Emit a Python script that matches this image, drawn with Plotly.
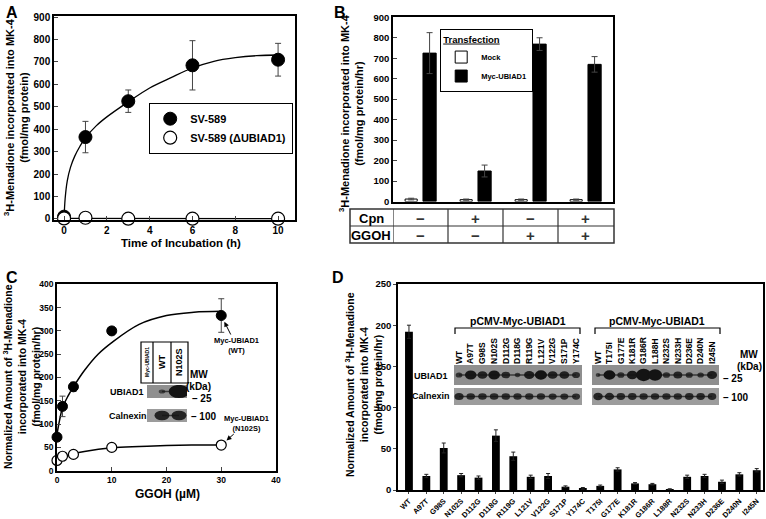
import plotly.graph_objects as go

W, H = 766, 519
def fx(p):
    return p / W
def fy(p):
    return 1 - p / H

FONT = "Liberation Sans, Arial, Helvetica, sans-serif"

# ---------------- Panel A data ----------------
a_time = [0, 1, 3, 6, 10]
a_sv589 = [10, 365, 525, 685, 710]
a_sv589_err = [5, 70, 50, 110, 73]
a_ko = [2, 5, 1, 1, 1]
a_fit_t = [0, 0.05, 0.15, 0.3, 0.5, 0.75, 1, 1.5, 2, 3, 4, 5, 6, 7, 8, 9, 10]
a_fit_v = [0, 90, 170, 230, 280, 325, 362, 415, 455, 522, 584, 630, 673, 703, 719, 728, 731]
a_ko_fit_t = [0, 10]
a_ko_fit_v = [2, 1]

# ---------------- Panel B data ----------------
b_cond = [0, 1, 2, 3]
b_mock = [12, 9, 9, 9]
b_mock_err = [4, 3, 3, 3]
b_myc = [725, 149, 769, 670]
b_myc_err = [100, 29, 31, 38]
b_cpn = ["\u2212", "+", "\u2212", "+"]
b_ggoh = ["\u2212", "\u2212", "+", "+"]

# ---------------- Panel C data ----------------
c_ggoh = [0, 1, 3, 10, 30]
c_wt = [72, 138, 180, 300, 333]
c_wt_err = [8, 22, 10, 8, 36]
c_n102s = [22, 31, 35, 50, 55]
c_n102s_err = [3, 3, 3, 4, 4]
c_wt_fit_x = [0, 0.25, 0.5, 1, 2, 3, 5, 7.5, 10, 15, 20, 25, 30]
c_wt_fit_y = [78, 95, 110, 135, 160, 180, 215, 250, 275, 314, 333, 340, 342]
c_mut_fit_x = [0, 1, 3, 5, 10, 15, 20, 25, 30]
c_mut_fit_y = [22, 29, 36, 41, 49, 52, 54, 55, 55]
c_lanes = ["WT", "N102S"]
c_ubi_band = [0.35, 1.1]
c_cnx_band = [0.8, 0.8]

# ---------------- Panel D data ----------------
d_mut = ["WT", "A97T", "G98S", "N102S", "D112G", "D118G", "R119G", "L121V", "V122G",
         "S171P", "Y174C", "T175I", "G177E", "K181R", "G186R", "L188R", "N232S",
         "N233H", "D236E", "D240N", "I245N"]
d_val = [192, 17, 51, 18, 15, 66, 41, 16, 17, 4, 2, 5, 25, 8, 7, 1, 16, 17, 10, 19, 24]
d_err = [8, 2, 6, 2, 2, 7, 5, 2, 3, 1, 1, 1, 2, 1, 1, 0.5, 2, 2, 2, 2, 2]
d_lanes_left = ["WT", "A97T", "G98S", "N102S", "D112G", "D118G", "R119G", "L121V",
                "V122G", "S171P", "Y174C"]
d_lanes_right = ["WT", "T175I", "G177E", "K181R", "G186R", "L188H", "N232S", "N233H",
                 "D236E", "D240N", "I245N"]
d_ubi_left = [0.55, 0.95, 0.8, 0.95, 0.7, 0.45, 0.85, 1.0, 0.8, 0.8, 0.65]
d_ubi_right = [0.4, 1.0, 0.6, 0.9, 1.3, 1.2, 0.6, 0.75, 0.6, 0.55, 0.85]
d_cnx_left = [0.75, 0.7, 0.7, 0.7, 0.7, 0.68, 0.68, 0.68, 0.66, 0.66, 0.66]
d_cnx_right = [0.8, 0.78, 0.72, 0.72, 0.7, 0.7, 0.7, 0.7, 0.72, 0.72, 0.72]

BOLD = dict(family=FONT, color="black", weight="bold")
def bf(size, **kw):
    d = dict(BOLD)
    d["size"] = size
    d.update(kw)
    return d

fig = go.Figure()

# ---- A traces ----
fig.add_trace(go.Scatter(x=a_fit_t, y=a_fit_v, mode="lines", xaxis="x", yaxis="y",
                         line=dict(color="black", width=1.3, shape="spline"),
                         showlegend=False, hoverinfo="skip"))
fig.add_trace(go.Scatter(x=a_ko_fit_t, y=a_ko_fit_v, mode="lines", xaxis="x", yaxis="y",
                         line=dict(color="black", width=1.3), showlegend=False, hoverinfo="skip"))
fig.add_trace(go.Scatter(x=a_time, y=a_sv589, mode="markers", name="SV-589", xaxis="x", yaxis="y",
                         marker=dict(size=13, color="black", line=dict(color="black", width=1)),
                         error_y=dict(type="data", array=a_sv589_err, color="#444", thickness=1, width=3),
                         legend="legend", cliponaxis=False))
fig.add_trace(go.Scatter(x=a_time, y=a_ko, mode="markers", name="SV-589 (\u0394UBIAD1)", xaxis="x", yaxis="y",
                         marker=dict(size=13, color="white", line=dict(color="black", width=1.2)),
                         legend="legend", cliponaxis=False))

# ---- B traces ----
fig.add_trace(go.Bar(x=b_cond, y=b_mock, width=0.22, offset=-0.28, name="Mock", xaxis="x2", yaxis="y2",
                     marker=dict(color="white", line=dict(color="black", width=1)),
                     error_y=dict(type="data", array=b_mock_err, color="#444", thickness=1, width=3),
                     legend="legend2"))
fig.add_trace(go.Bar(x=b_cond, y=b_myc, width=0.24, offset=0.045, name="Myc-UBIAD1", xaxis="x2", yaxis="y2",
                     marker=dict(color="black", line=dict(color="black", width=1)),
                     error_y=dict(type="data", array=b_myc_err, color="#444", thickness=1, width=3),
                     legend="legend2"))

# ---- C traces ----
fig.add_trace(go.Scatter(x=c_wt_fit_x, y=c_wt_fit_y, mode="lines", xaxis="x3", yaxis="y3",
                         line=dict(color="black", width=1.5, shape="spline"), showlegend=False, hoverinfo="skip"))
fig.add_trace(go.Scatter(x=c_mut_fit_x, y=c_mut_fit_y, mode="lines", xaxis="x3", yaxis="y3",
                         line=dict(color="black", width=1.5, shape="spline"), showlegend=False, hoverinfo="skip"))
fig.add_trace(go.Scatter(x=c_ggoh, y=c_wt, mode="markers", xaxis="x3", yaxis="y3", showlegend=False,
                         marker=dict(size=10, color="black", line=dict(color="black", width=1)),
                         error_y=dict(type="data", array=c_wt_err, color="#444", thickness=1, width=3),
                         cliponaxis=False))
fig.add_trace(go.Scatter(x=c_ggoh, y=c_n102s, mode="markers", xaxis="x3", yaxis="y3", showlegend=False,
                         marker=dict(size=10, color="white", line=dict(color="black", width=1.2)),
                         error_y=dict(type="data", array=c_n102s_err, color="#444", thickness=1, width=3),
                         cliponaxis=False))

# ---- D traces ----
fig.add_trace(go.Bar(x=d_mut, y=d_val, width=0.45, xaxis="x4", yaxis="y4", showlegend=False,
                     marker=dict(color="black", line=dict(width=0)),
                     error_y=dict(type="data", array=d_err, symmetric=True, color="#222", thickness=1, width=2)))

# ---- blot axes (invisible anchor traces) ----
blot_specs = [
    ("5", c_lanes, c_ubi_band, c_cnx_band, 0.55, 0.25),
    ("6", d_lanes_left, d_ubi_left, d_cnx_left, 0.52, 0.22),
    ("7", d_lanes_right, d_ubi_right, d_cnx_right, 0.52, 0.22),
]
for suf, lanes, ubi, cnx, hwf, hhf in blot_specs:
    fig.add_trace(go.Scatter(x=list(range(len(lanes))), y=[1] * len(lanes), mode="markers",
                             marker=dict(opacity=0), xaxis="x" + suf, yaxis="y" + suf,
                             showlegend=False, hoverinfo="skip"))

shapes = []
annotations = []

def ann(text, x, y, size, xref="paper", yref="paper", xanchor="center", yanchor="middle", **kw):
    d = dict(text=text, x=x, y=y, xref=xref, yref=yref, xanchor=xanchor, yanchor=yanchor,
             showarrow=False, font=kw.pop("font", bf(size)))
    d.update(kw)
    annotations.append(d)

blot_rows = {
    "5": dict(ubi=(0.73, 1.27), cnx=(-0.27, 0.27)),
    "6": dict(ubi=(0.535, 1.465), cnx=(-0.395, 0.395)),
    "7": dict(ubi=(0.535, 1.465), cnx=(-0.395, 0.395)),
}
for suf, lanes, ubi, cnx, hwf, hhf in blot_specs:
    rows = blot_rows[suf]
    for key, col in (("ubi", "#8f8f8f"), ("cnx", "#9c9c9c")):
        y0, y1 = rows[key]
        shapes.append(dict(type="rect", xref="x%s domain" % suf, yref="y" + suf, x0=0, x1=1,
                           y0=y0, y1=y1, fillcolor=col, line=dict(width=0), layer="above"))
    for r, sizes in ((1, ubi), (0, cnx)):
        shapes.append(dict(type="line", xref="x" + suf, yref="y" + suf, x0=0, x1=len(lanes) - 1,
                           y0=r, y1=r, line=dict(color="#3a3a3a", width=1.5), layer="above"))
        for i, s in enumerate(sizes):
            shapes.append(dict(type="circle", xref="x" + suf, yref="y" + suf,
                               x0=i - hwf * s, x1=i + hwf * s, y0=r - hhf * s, y1=r + hhf * s,
                               fillcolor="#141414", opacity=min(1.0, 0.45 + s * 0.55),
                               line=dict(width=0), layer="above"))

# ---- Table under B ----
shapes.append(dict(type="rect", xref="paper", yref="paper", x0=fx(350), x1=fx(614), y0=fy(243), y1=fy(209),
                   line=dict(color="#333", width=1.5)))
shapes.append(dict(type="line", xref="paper", yref="paper", x0=fx(350), x1=fx(614), y0=fy(226), y1=fy(226),
                   line=dict(color="#333", width=1.2)))
for i in range(len(b_cond)):
    shapes.append(dict(type="line", xref="x2", yref="paper", x0=b_cond[i] - 0.5, x1=b_cond[i] - 0.5,
                       y0=fy(243), y1=fy(209), line=dict(color="#333", width=1.2)))
ann("Cpn", fx(371), fy(218), 13)
ann("GGOH", fx(371), fy(235), 13)
for i in range(len(b_cond)):
    ann(b_cpn[i], b_cond[i], fy(218), 15, xref="x2", font=dict(family=FONT, size=15, color="#333"))
    ann(b_ggoh[i], b_cond[i], fy(235), 15, xref="x2", font=dict(family=FONT, size=15, color="#333"))

# ---- panel letters ----
for letter, x, y in (("A", 4, 2), ("B", 332, 2), ("C", 4, 267), ("D", 330, 267)):
    ann(letter, fx(x), fy(y), 16, xanchor="left", yanchor="top")

# ---- axis titles ----
ann("<sup>3</sup>H-Menadione incorporated into MK-4<br>(fmol/mg protein)", fx(16), fy(117), 11, textangle=-90)
ann("Time of Incubation (h)", fx(181), fy(243), 11.5)
ann("<sup>3</sup>H-Menadione incorporated into MK-4<br>(fmol/mg protein/hr)", fx(351), fy(113), 11, textangle=-90)
ann("Normalized Amount of <sup>3</sup>H-Menadione<br>incorporated into MK-4<br>(fmol/mg protein/hr)",
    fx(21), fy(377), 10.5, textangle=-90)
ann("GGOH (\u00b5M)", fx(167), fy(494), 12)
ann("Normalized Amount of <sup>3</sup>H-Menadione<br>incorporated into MK-4<br>(fmol/mg protein/hr)",
    fx(363), fy(385), 10.5, textangle=-90)

# ---- C annotations (arrows) ----
annotations.append(dict(text="Myc-UBIAD1<br>(WT)", x=c_ggoh[-1], y=c_wt[-1], xref="x3", yref="y3",
                        ax=15, ay=30, showarrow=True, arrowhead=2, arrowsize=1, arrowwidth=1, standoff=7,
                        font=bf(7.5), arrowcolor="black"))
annotations.append(dict(text="Myc-UBIAD1<br>(N102S)", x=c_ggoh[-1], y=c_n102s[-1], xref="x3", yref="y3",
                        ax=25, ay=-22, showarrow=True, arrowhead=2, arrowsize=1, arrowwidth=1, standoff=7,
                        font=bf(7.5), arrowcolor="black"))

# ---- C blot header ----
shapes.append(dict(type="rect", xref="paper", yref="paper", x0=fx(141), x1=fx(188), y0=fy(383), y1=fy(342),
                   line=dict(color="black", width=1.2)))
for xd in (153, 171):
    shapes.append(dict(type="line", xref="paper", yref="paper", x0=fx(xd), x1=fx(xd), y0=fy(383), y1=fy(342),
                       line=dict(color="black", width=1.2)))
ann("Myc-UBIAD1", fx(147), fy(362), 5, textangle=-90)
for i, lane in enumerate(c_lanes):
    ann(lane, i, fy(362), 9, xref="x5", textangle=-90)
ann("UBIAD1", fx(146), fy(392), 9, xanchor="right")
ann("Calnexin", fx(149), fy(416), 9, xanchor="right")
ann("MW", fx(199), fy(374), 10)
ann("(kDa)", fx(198), fy(386), 10)
ann("\u2013 25", fx(190), fy(398), 10, xanchor="left")
ann("\u2013 100", fx(189), fy(416), 10, xanchor="left")

# ---- D blot headers, brackets, labels ----
for (xl, xr, xc) in ((455, 580, 518), (595, 720, 657)):
    shapes.append(dict(type="path", xref="paper", yref="paper",
                       path="M %f %f L %f %f L %f %f L %f %f" % (fx(xl), fy(334), fx(xl), fy(328),
                                                                  fx(xr), fy(328), fx(xr), fy(334)),
                       line=dict(color="black", width=1.2)))
    ann("pCMV-Myc-UBIAD1", fx(xc), fy(321), 10.5)
ann("UBIAD1", fx(450), fy(376), 9, xanchor="right")
ann("Calnexin", fx(452), fy(396), 9, xanchor="right")
ann("MW", fx(749), fy(354), 10)
ann("(kDa)", fx(749), fy(366), 10)
ann("\u2013 25", fx(721), fy(378), 10, xanchor="left")
ann("\u2013 100", fx(721), fy(397), 10, xanchor="left")

frame = dict(showline=True, linecolor="black", linewidth=1.5, mirror=True, showgrid=False, zeroline=False)
hidden = dict(showline=False, showgrid=False, zeroline=False, showticklabels=False, ticks="")

fig.update_layout(
    width=W, height=H, autosize=False, margin=dict(l=0, r=0, t=0, b=0, autoexpand=False),
    paper_bgcolor="white", plot_bgcolor="white",
    font=dict(family=FONT, color="black", weight="bold"),
    barmode="overlay",
    xaxis=dict(domain=[fx(54), fx(295)], range=[-0.47, 10.79], anchor="y", tickvals=[0, 2, 4, 6, 8, 10],
               ticks="inside", ticklen=4, tickfont=bf(10), **frame),
    yaxis=dict(domain=[fy(220), fy(16)], range=[-5, 905], anchor="x", dtick=100,
               ticks="inside", ticklen=4, tickfont=bf(10), **frame),
    xaxis2=dict(domain=[fx(393), fx(613)], range=[-0.5, 3.5], anchor="y2", showticklabels=False, ticks="",
                **frame),
    yaxis2=dict(domain=[fy(201.5), fy(17.3)], range=[0, 900], anchor="x2", dtick=100,
                ticks="inside", ticklen=4, tickfont=bf(9.5), **frame),
    xaxis3=dict(domain=[fx(57), fx(276)], range=[0, 40], anchor="y3", dtick=10,
                ticks="inside", ticklen=4, tickfont=bf(8.5), **frame),
    yaxis3=dict(domain=[fy(470.7), fy(284.3)], range=[0, 400], anchor="x3", dtick=50,
                ticks="inside", ticklen=4, tickfont=bf(8.5), **frame),
    xaxis4=dict(domain=[fx(398), fx(763)], range=[-0.63, 20.36], anchor="y4", type="category",
                tickangle=-45, ticks="outside", ticklen=2, tickfont=bf(7.5), **frame),
    yaxis4=dict(domain=[fy(490), fy(284)], range=[0, 250], anchor="x4", dtick=50,
                ticks="outside", ticklen=3, tickfont=bf(9.5), **frame),
    xaxis5=dict(domain=[fx(147), fx(187)], range=[-0.88, 1.47], anchor="y5", **hidden),
    yaxis5=dict(domain=[fy(422), fy(385)], range=[-0.27, 1.27], anchor="x5", **hidden),
    xaxis6=dict(domain=[fx(454), fx(582)], range=[-0.43, 10.51], anchor="y6", side="top",
                tickvals=list(range(len(d_lanes_left))), ticktext=d_lanes_left, tickangle=-90,
                tickfont=bf(8.5), showline=False, showgrid=False, zeroline=False, ticks=""),
    yaxis6=dict(domain=[fy(405), fy(365)], range=[-0.395, 1.465], anchor="x6", **hidden),
    xaxis7=dict(domain=[fx(592), fx(719)], range=[-0.53, 10.61], anchor="y7", side="top",
                tickvals=list(range(len(d_lanes_right))), ticktext=d_lanes_right, tickangle=-90,
                tickfont=bf(8.5), showline=False, showgrid=False, zeroline=False, ticks=""),
    yaxis7=dict(domain=[fy(405), fy(365)], range=[-0.395, 1.465], anchor="x7", **hidden),
    legend=dict(x=fx(293), y=fy(103), xanchor="right", yanchor="top", bgcolor="white",
                bordercolor="black", borderwidth=1.2, font=bf(11), tracegroupgap=0),
    legend2=dict(x=fx(440), y=fy(29), xanchor="left", yanchor="top", bgcolor="white",
                 bordercolor="black", borderwidth=1.2, font=bf(7.5),
                 title=dict(text="Transfection", font=bf(9.5, lineposition="under"), side="top")),
    shapes=shapes,
    annotations=annotations,
)

fig.write_html("out.html", config={"displayModeBar": False},
               post_script="document.body.style.margin='0px';document.body.style.overflow='hidden';")
